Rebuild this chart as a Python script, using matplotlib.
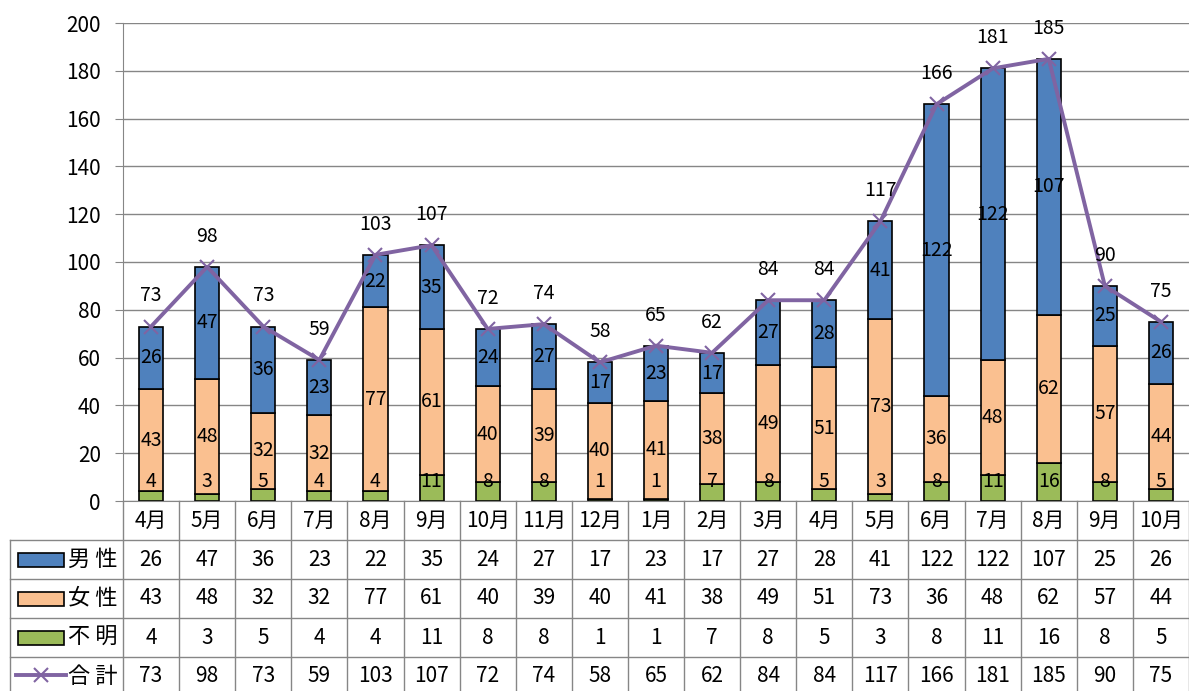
import matplotlib
matplotlib.use('Agg')
import matplotlib.pyplot as plt
from matplotlib.lines import Line2D
from matplotlib.patches import Rectangle
import numpy as np

plt.rcParams['font.family'] = ['Noto Sans CJK JP', 'DejaVu Sans']

months = ['4月', '5月', '6月', '7月', '8月', '9月', '10月', '11月', '12月', '1月',
          '2月', '3月', '4月', '5月', '6月', '7月', '8月', '9月', '10月']
male = [26, 47, 36, 23, 22, 35, 24, 27, 17, 23, 17, 27, 28, 41, 122, 122, 107, 25, 26]
female = [43, 48, 32, 32, 77, 61, 40, 39, 40, 41, 38, 49, 51, 73, 36, 48, 62, 57, 44]
unknown = [4, 3, 5, 4, 4, 11, 8, 8, 1, 1, 7, 8, 5, 3, 8, 11, 16, 8, 5]
total = [73, 98, 73, 59, 103, 107, 72, 74, 58, 65, 62, 84, 84, 117, 166, 181, 185, 90, 75]
series_names = ['男 性', '女 性', '不 明', '合 計']

c_male = '#4F81BD'
c_female = '#FAC090'
c_unknown = '#9BBB59'
c_total = '#8064A2'
grid_c = '#868686'

W, H = 1189, 691
fig = plt.figure(figsize=(W / 100, H / 100), dpi=100)
ax = fig.add_axes([123 / W, (H - 501) / H, (W - 123) / W, (501 - 23) / H])

x = np.arange(len(months))
bw = 0.43
unknown_a = np.array(unknown)
female_a = np.array(female)
male_a = np.array(male)

ax.bar(x, unknown_a, bw, color=c_unknown, edgecolor='black', linewidth=1.2, zorder=2)
ax.bar(x, female_a, bw, bottom=unknown_a, color=c_female, edgecolor='black', linewidth=1.2, zorder=2)
ax.bar(x, male_a, bw, bottom=unknown_a + female_a, color=c_male, edgecolor='black', linewidth=1.2, zorder=2)
ax.plot(x, total, color=c_total, lw=2.8, marker='x', markersize=10, mew=1.5, zorder=4)

# segment labels
for i in range(len(x)):
    ax.text(x[i], max(unknown[i] / 2, 8), str(unknown[i]), ha='center', va='center', fontsize=14, zorder=5)
    ax.text(x[i], unknown[i] + female[i] / 2, str(female[i]), ha='center', va='center', fontsize=14, zorder=5)
    ax.text(x[i], unknown[i] + female[i] + male[i] / 2, str(male[i]), ha='center', va='center', fontsize=14, zorder=5)
    ax.annotate(str(total[i]), (x[i], total[i]), xytext=(0, 22), textcoords='offset points',
                ha='center', va='center', fontsize=14, zorder=5)

ax.set_xlim(-0.5, len(months) - 0.5)
ax.set_ylim(0, 200)
ax.set_yticks(range(0, 201, 20))
ax.set_xticks([])
ax.yaxis.grid(True, color=grid_c, lw=1)
ax.set_axisbelow(True)
for s in ['top', 'right']:
    ax.spines[s].set_visible(False)
ax.spines['left'].set_color(grid_c)
ax.spines['bottom'].set_color(grid_c)
ax.tick_params(axis='y', length=6, color=grid_c, pad=10, labelsize=15)

# data table below the chart
def fy(py):
    return (H - py) / H

def fx(px):
    return px / W

col_w = (W - 123) / len(months)
rows = [501, 540, 579, 618, 657]
row_h = 39
line_kw = dict(color=grid_c, lw=1, transform=fig.transFigure)

for k in range(len(months) + 1):
    px = 123 + k * col_w
    fig.add_artist(Line2D([fx(px), fx(px)], [fy(501), 0], **line_kw))
fig.add_artist(Line2D([fx(10), fx(10)], [fy(540), 0], **line_kw))
for py in rows[1:]:
    fig.add_artist(Line2D([fx(10), 1], [fy(py), fy(py)], **line_kw))

for i, m in enumerate(months):
    fig.text(fx(123 + (i + 0.5) * col_w), fy(521), m, ha='center', va='center', fontsize=15)

table_rows = [male, female, unknown, total]
for r, vals in enumerate(table_rows):
    cy = rows[r + 1] + row_h / 2
    for i, v in enumerate(vals):
        fig.text(fx(123 + (i + 0.5) * col_w), fy(cy), str(v), ha='center', va='center', fontsize=15)
    fig.text(fx(68), fy(cy), series_names[r], ha='left', va='center', fontsize=16)

key_colors = [c_male, c_female, c_unknown]
for r, c in enumerate(key_colors):
    cy = rows[r + 1] + row_h / 2
    fig.add_artist(Rectangle((fx(18), fy(cy + 7)), fx(64) - fx(18), fy(cy - 7) - fy(cy + 7),
                             facecolor=c, edgecolor='black', lw=1.2, transform=fig.transFigure))
cy = rows[4] + row_h / 2 - 2
fig.add_artist(Line2D([fx(16), fx(66)], [fy(cy), fy(cy)], color=c_total, lw=2.8,
                      transform=fig.transFigure))
fig.add_artist(Line2D([fx(41)], [fy(cy)], color=c_total, marker='x', markersize=10, mew=1.5,
                      transform=fig.transFigure))

fig.savefig('out.png', dpi=100)
